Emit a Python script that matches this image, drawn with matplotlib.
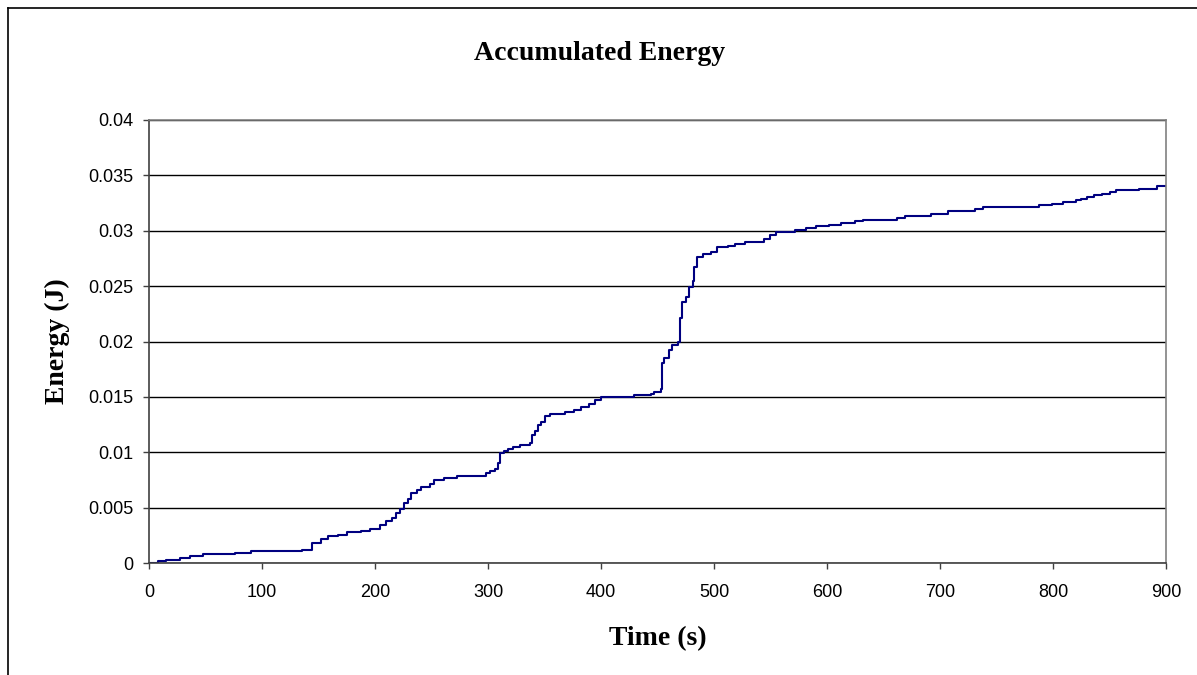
import matplotlib.pyplot as plt
from matplotlib.lines import Line2D

# accumulated energy, read as a step trace (value holds until next time)
time_s = [0, 8, 15, 27, 36, 48, 69, 76, 90, 135, 144, 152, 158, 167, 175, 188,
          196, 204, 210, 215, 219, 222, 226, 229, 232, 237, 241, 249, 252, 261,
          273, 298, 302, 306, 309, 311, 314, 318, 322, 328, 337, 339, 342, 344,
          347, 350, 355, 357, 368, 376, 382, 389, 395, 400, 429, 444, 447, 453,
          454, 456, 460, 463, 468, 470, 472, 475, 478, 481, 482, 485, 490, 497,
          503, 512, 519, 527, 544, 550, 555, 572, 581, 590, 602, 612, 625, 632,
          662, 669, 692, 707, 731, 738, 788, 799, 809, 820, 825, 830, 836, 843,
          850, 856, 876, 892, 900]
energy_j = [0, 0.00016, 0.0003, 0.00047, 0.0006, 0.00077, 0.00082, 0.00092,
            0.00106, 0.0012, 0.0018, 0.0022, 0.0024, 0.00257, 0.0028, 0.00293,
            0.00308, 0.0034, 0.00377, 0.0041, 0.0045, 0.0049, 0.0054, 0.0058,
            0.0063, 0.0066, 0.0069, 0.0071, 0.0075, 0.0077, 0.0079, 0.0081,
            0.0083, 0.0085, 0.009, 0.0099, 0.0101, 0.0103, 0.01047, 0.01067,
            0.01083, 0.0116, 0.0119, 0.0125, 0.0127, 0.0133, 0.01344, 0.01347,
            0.0136, 0.0138, 0.01413, 0.01437, 0.0147, 0.015, 0.01515, 0.01527,
            0.01548, 0.0157, 0.0181, 0.0185, 0.0192, 0.0197, 0.02, 0.0221,
            0.0236, 0.024, 0.0249, 0.0255, 0.0267, 0.0276, 0.0279, 0.0281,
            0.02849, 0.02863, 0.0288, 0.029, 0.0293, 0.0296, 0.02993, 0.0301,
            0.03025, 0.0304, 0.03056, 0.0307, 0.03086, 0.031, 0.03115, 0.03133,
            0.03155, 0.0318, 0.032, 0.03215, 0.0323, 0.03245, 0.0326, 0.03275,
            0.0329, 0.03305, 0.0332, 0.03335, 0.0335, 0.03365, 0.0338, 0.034,
            0.034]
x_ticks = [0, 100, 200, 300, 400, 500, 600, 700, 800, 900]
y_ticks = [0, 0.005, 0.01, 0.015, 0.02, 0.025, 0.03, 0.035, 0.04]
y_labels = ['0', '0.005', '0.01', '0.015', '0.02', '0.025', '0.03', '0.035', '0.04']

W, H = 1197, 675
fig = plt.figure(figsize=(W / 100, H / 100), dpi=100)
ax = fig.add_axes([149 / W, 1 - 563 / H, (1166 - 149) / W, (563 - 120) / H])

ax.plot(time_s, energy_j, drawstyle='steps-post', color='#000080', lw=1.5)

ax.set_xlim(0, 900)
ax.set_ylim(0, 0.04)
ax.set_xticks(x_ticks)
ax.set_yticks(y_ticks)
ax.set_yticklabels(y_labels)
ax.grid(axis='y', color='black', lw=1)
ax.set_axisbelow(True)

for side in ['top', 'right']:
    ax.spines[side].set_color('#808080')
for side in ['left', 'bottom']:
    ax.spines[side].set_color('#404040')
for s in ax.spines.values():
    s.set_linewidth(1.2)

ax.tick_params(direction='out', length=4, width=1, color='#404040',
               labelsize=13)
ax.tick_params(axis='x', pad=11)
ax.tick_params(axis='y', pad=7)
for lab in ax.get_xticklabels() + ax.get_yticklabels():
    lab.set_family('Liberation Sans')

serif = dict(family='Liberation Serif', weight='bold', size=20)
ax.set_xlabel('Time (s)', labelpad=18, **serif)
ax.set_ylabel('Energy (J)', labelpad=13, **serif)
fig.text(600 / W, 1 - 53 / H, 'Accumulated Energy', ha='center', va='center',
         family='Liberation Serif', weight='bold', size=20)

# outer frame of the chart area
fig.add_artist(Line2D([8 / W, 8 / W], [0, 1 - 8 / H], color='black', lw=1.2))
fig.add_artist(Line2D([8 / W, 1], [1 - 8 / H, 1 - 8 / H], color='black', lw=1.2))

fig.savefig('out.png', dpi=100)
